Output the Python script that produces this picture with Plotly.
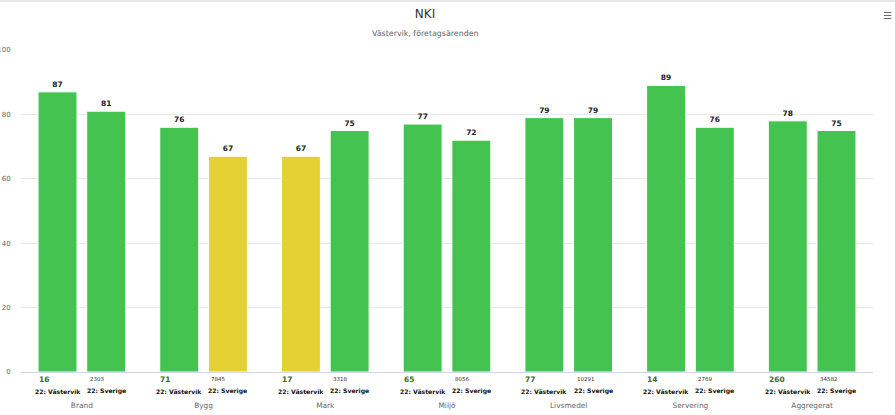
import plotly.graph_objects as go

# ---- data ----
categories = ["Brand", "Bygg", "Mark", "Miljö", "Livsmedel", "Servering", "Aggregerat"]
series_names = ["22: Västervik", "22: Sverige"]
nki_vastervik = [87, 76, 67, 77, 79, 89, 78]
nki_sverige = [81, 67, 75, 72, 79, 76, 75]
n_vastervik = [16, 71, 17, 65, 77, 14, 260]
n_sverige = [2303, 7845, 3318, 8056, 10291, 2769, 34582]
y_ticks = [0, 20, 40, 60, 80, 100]

# ---- style ----
FONT = "DejaVu Sans"
GREEN = "#45c351"
YELLOW = "#e4d233"
THRESH = 70


def colors(vals):
    return [YELLOW if v < THRESH else GREEN for v in vals]


fig = go.Figure()
for name, vals in zip(series_names, [nki_vastervik, nki_sverige]):
    fig.add_trace(go.Bar(
        x=categories, y=vals, name=name,
        marker=dict(color=colors(vals), line=dict(color="white", width=1)),
        text=[str(v) for v in vals], textposition="outside",
        textfont=dict(family=FONT, size=7.5, color="#222222"),
        texttemplate="<b>%{text}</b>",
        cliponaxis=False, showlegend=False,
    ))

annotations = []
offsets = [-0.2, 0.2]
count_shift = [-21, -18.5]
count_style = [dict(size=7.5, color="#3b6a2c"), dict(size=5.5, color="#333333")]
for s, (name, counts) in enumerate(zip(series_names, [n_vastervik, n_sverige])):
    for i, n in enumerate(counts):
        xpos = i + offsets[s]
        annotations.append(dict(
            x=xpos, y=0, xref="x", yref="y", text=f"<b>{n}</b>" if s == 0 else str(n),
            showarrow=False, xanchor="left", yanchor="middle",
            xshift=count_shift[s], yshift=-7,
            font=dict(family=FONT, **count_style[s])))
        annotations.append(dict(
            x=xpos, y=0, xref="x", yref="y", text=f"<b>{name}</b>",
            showarrow=False, xanchor="center", yanchor="middle", yshift=-19,
            font=dict(family=FONT, size=6.1, color="#111111")))

# subtitle
annotations.append(dict(
    x=(425 - 21) / 852, y=(372 - 34) / 322, xref="paper", yref="paper",
    text="Västervik, företagsärenden", showarrow=False,
    xanchor="center", yanchor="middle",
    font=dict(family=FONT, size=7.9, color="#666666")))
# menu icon at the right edge
annotations.append(dict(
    x=(894 - 21) / 852, y=(372 - 16) / 322, xref="paper", yref="paper",
    text="☰", showarrow=False, xanchor="right", yanchor="middle",
    font=dict(family=FONT, size=10, color="#666688")))

fig.update_layout(
    width=895, height=415,
    margin=dict(l=21, r=22, t=50, b=43, autoexpand=False),
    paper_bgcolor="white", plot_bgcolor="white",
    barmode="group", bargap=0.2, bargroupgap=0.2,
    title=dict(text="NKI", x=425 / 895, xref="container", xanchor="center",
               y=1 - 14 / 415, yref="container", yanchor="middle",
               font=dict(family=FONT, size=12, color="#333333")),
    annotations=annotations,
    shapes=[dict(type="line", xref="paper", yref="paper",
                 x0=-0.1, x1=1.1, y0=(372 - 1) / 322, y1=(372 - 1) / 322,
                 line=dict(color="#e8e8e8", width=2))],
    xaxis=dict(
        type="category", showgrid=False, showline=True, linecolor="#ccd6eb",
        linewidth=1, ticks="outside", ticklen=26, tickcolor="rgba(0,0,0,0)",
        tickfont=dict(family=FONT, size=7.4, color="#666666"),
        zeroline=False, fixedrange=True, automargin=False,
    ),
    yaxis=dict(
        range=[0, 100], tickvals=y_ticks, showgrid=True, gridcolor="#e6e6e6",
        gridwidth=1, zeroline=False, showline=False,
        ticks="outside", ticklen=8, tickcolor="rgba(0,0,0,0)",
        tickfont=dict(family=FONT, size=7, color="#666666"),
        fixedrange=True, automargin=False,
    ),
)

fig.write_html(
    "out.html",
    config={"displayModeBar": False},
    post_script="document.body.style.margin='0';document.body.style.overflow='hidden';",
)
